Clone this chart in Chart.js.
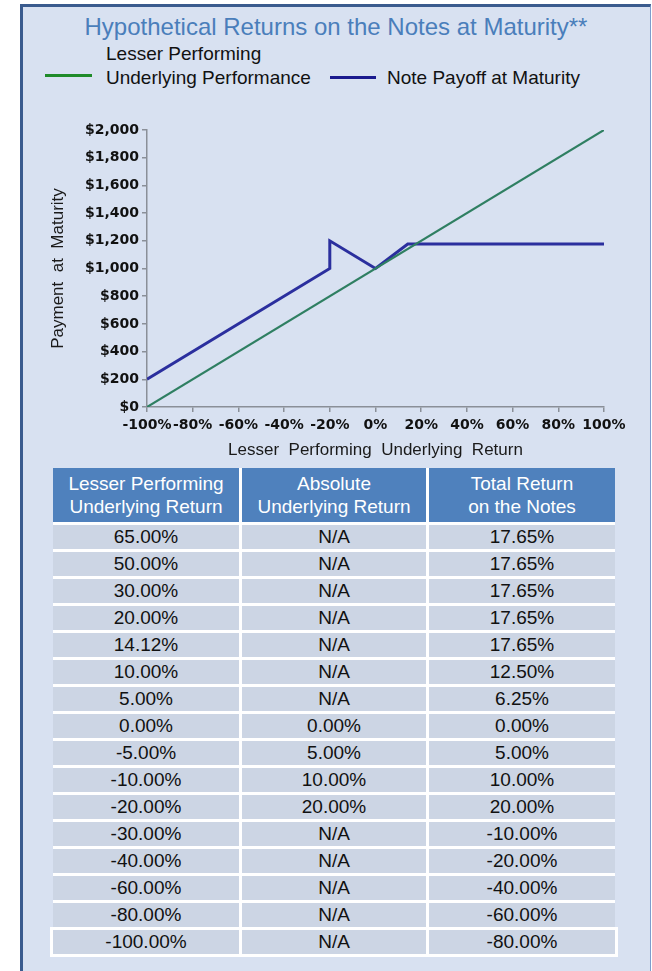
<!DOCTYPE html>
<html>
<head>
<meta charset="utf-8">
<script src="https://cdn.jsdelivr.net/npm/chart.js@4/dist/chart.umd.min.js"></script>
<style>
  html, body { margin:0; padding:0; background:#ffffff; width:652px; height:971px; overflow:hidden;
    font-family:"Liberation Sans", Arial, sans-serif; }
  #panel { position:absolute; left:20px; top:4px; width:627px; height:1000px; background:#d8e1f1;
    border-left:3px solid #3a5b8e; border-top:3px solid #3a5b8e; border-right:1px solid #7d9ccc; }
  #title { position:absolute; left:20px; width:632px; top:13px; text-align:center; font-size:24px;
    line-height:28px; color:#4a7ebb; white-space:nowrap; }
  .lg-swatch { position:absolute; height:3px; }
  .lg-text { position:absolute; font-size:19px; line-height:24px; color:#111; white-space:nowrap; }
  #chartBox { position:absolute; left:0; top:110px; width:652px; height:360px; }
  #lastRowFrame { position:absolute; left:50px; top:927px; width:568px; height:30px; background:#ffffff; }
  #tbl { position:absolute; left:53px; top:468px; display:grid;
    grid-template-columns:186px 184px 186px; grid-auto-rows:24px; grid-template-rows:54px;
    column-gap:3px; row-gap:3px; background:#ffffff; }
  #tbl div { text-align:center; font-size:19px; line-height:24px; color:#111; background:#ccd5e4; }
  #tbl div.hd { background:#4f81bd; color:#ffffff; line-height:23px; padding-top:4px; box-sizing:border-box; height:54px; }
</style>
</head>
<body>
<div id="panel"></div>
<div id="title">Hypothetical Returns on the Notes at Maturity**</div>
<div id="legend"></div>
<div id="chartBox"><canvas id="c" width="652" height="360"></canvas></div>
<div id="lastRowFrame"></div>
<div id="tbl"></div>
<script>
// ---- chart data ----
const seriesNames = [["Lesser Performing", "Underlying Performance"], "Note Payoff at Maturity"];
const underlyingReturn = [-100, 100];
const underlyingPayment = [0, 2000];
const payoffReturn = [-100, -20, -20, 0, 14.12, 100];
const payoffPayment = [200, 1000, 1200, 1000, 1176.5, 1176.5];
const xTickValues = [-100, -80, -60, -40, -20, 0, 20, 40, 60, 80, 100];
const yTickValues = [0, 200, 400, 600, 800, 1000, 1200, 1400, 1600, 1800, 2000];
const xAxisTitle = "Lesser  Performing  Underlying  Return";
const yAxisTitle = "Payment  at  Maturity";

// ---- table data ----
const tableHeaders = [["Lesser Performing", "Underlying Return"], ["Absolute", "Underlying Return"], ["Total Return", "on the Notes"]];
const lesserReturns = ["65.00%", "50.00%", "30.00%", "20.00%", "14.12%", "10.00%", "5.00%", "0.00%", "-5.00%", "-10.00%", "-20.00%", "-30.00%", "-40.00%", "-60.00%", "-80.00%", "-100.00%"];
const absoluteReturns = ["N/A", "N/A", "N/A", "N/A", "N/A", "N/A", "N/A", "0.00%", "5.00%", "10.00%", "20.00%", "N/A", "N/A", "N/A", "N/A", "N/A"];
const totalReturns = ["17.65%", "17.65%", "17.65%", "17.65%", "17.65%", "12.50%", "6.25%", "0.00%", "5.00%", "10.00%", "20.00%", "-10.00%", "-20.00%", "-40.00%", "-60.00%", "-80.00%"];

const lineColors = ["#2f7f62", "#2b2f9e"];
const legendColors = ["#1f8b2a", "#1a1a8e"];

// ---- legend (HTML) ----
(function () {
  const lg = document.getElementById("legend");
  const items = [
    { sw: [45, 74, 47], tx: [106, 42] },
    { sw: [330, 76, 46], tx: [387, 66] }
  ];
  items.forEach((it, i) => {
    const s = document.createElement("div");
    s.className = "lg-swatch";
    s.style.left = it.sw[0] + "px"; s.style.top = it.sw[1] + "px"; s.style.width = it.sw[2] + "px";
    s.style.background = legendColors[i];
    lg.appendChild(s);
    const t = document.createElement("div");
    t.className = "lg-text";
    t.style.left = it.tx[0] + "px"; t.style.top = it.tx[1] + "px";
    const name = seriesNames[i];
    t.innerHTML = Array.isArray(name) ? name.join("<br>") : name;
    lg.appendChild(t);
  });
})();

// ---- table ----
(function () {
  const tb = document.getElementById("tbl");
  tableHeaders.forEach(h => {
    const d = document.createElement("div");
    d.className = "hd";
    d.innerHTML = h.join("<br>");
    tb.appendChild(d);
  });
  lesserReturns.forEach((v, i) => {
    [v, absoluteReturns[i], totalReturns[i]].forEach(txt => {
      const d = document.createElement("div");
      d.textContent = txt;
      tb.appendChild(d);
    });
  });
})();

// ---- chart ----
const tickFont = { family: "'DejaVu Sans', sans-serif", size: 14, weight: "bold" };
const axisGray = "#8a8f98";

new Chart(document.getElementById("c"), {
  type: "line",
  data: {
    datasets: [
      {
        label: seriesNames[0].join(" "),
        data: underlyingReturn.map((x, i) => ({ x: x, y: underlyingPayment[i] })),
        borderColor: lineColors[0], borderWidth: 2.2, pointRadius: 0, tension: 0, fill: false
      },
      {
        label: seriesNames[1],
        data: payoffReturn.map((x, i) => ({ x: x, y: payoffPayment[i] })),
        borderColor: lineColors[1], borderWidth: 3, pointRadius: 0, tension: 0, fill: false,
        borderJoinStyle: "miter"
      }
    ]
  },
  options: {
    responsive: false,
    animation: false,
    devicePixelRatio: 1,
    layout: { padding: { left: 40, right: 48, top: 20, bottom: 0 } },
    plugins: { legend: { display: false }, title: { display: false }, tooltip: { enabled: false } },
    scales: {
      x: {
        type: "linear", min: -100, max: 100,
        afterBuildTicks: s => { s.ticks = xTickValues.map(v => ({ value: v })); },
        afterFit: s => { s.height = 63; s.paddingLeft = 0; s.paddingRight = 0; },
        ticks: { autoSkip: false, maxRotation: 0, padding: 5, color: "#111", font: tickFont,
          callback: v => v + "%" },
        grid: { drawOnChartArea: false, drawTicks: true, tickLength: 5, color: axisGray, lineWidth: 1.5 },
        border: { display: true, color: axisGray, width: 1.5 },
        title: { display: true, text: xAxisTitle, color: "#1a1a1a",
          font: { family: "'Liberation Sans', Arial, sans-serif", size: 17 }, padding: { top: 0, bottom: 9 } }
      },
      y: {
        type: "linear", min: 0, max: 2000,
        afterBuildTicks: s => { s.ticks = yTickValues.map(v => ({ value: v })); },
        afterFit: s => { s.width = 107; s.paddingTop = 0; s.paddingBottom = 0; },
        ticks: { autoSkip: false, padding: 3, color: "#111", font: tickFont,
          callback: v => "$" + Number(v).toLocaleString("en-US") },
        grid: { drawOnChartArea: false, drawTicks: true, tickLength: 5, color: axisGray, lineWidth: 1.5 },
        border: { display: true, color: axisGray, width: 1.5 },
        title: { display: true, text: yAxisTitle, color: "#1a1a1a",
          font: { family: "'Liberation Sans', Arial, sans-serif", size: 17 }, padding: { top: 8, bottom: 0 } }
      }
    }
  }
});
</script>
</body>
</html>
